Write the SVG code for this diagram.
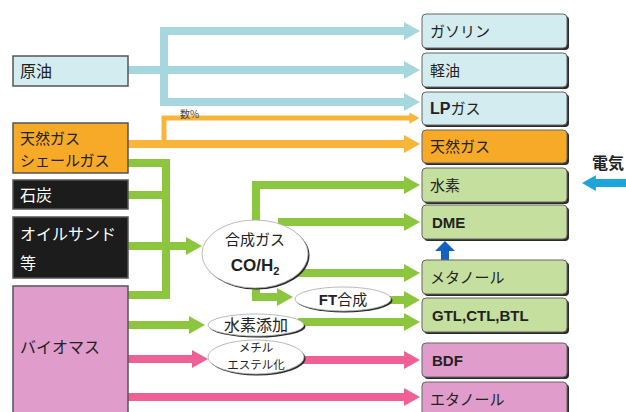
<svg xmlns="http://www.w3.org/2000/svg" width="626" height="412" viewBox="0 0 626 412">
<defs>
<style>
text{font-family:"Noto Sans CJK JP","Noto Sans",sans-serif;fill:#222;}
.lb{font-size:16px;}
.lb2{font-size:15px;}
.wt{fill:#fff;}
.rb{font-size:15px;}
.b{font-weight:bold;font-family:"Liberation Sans","Noto Sans CJK JP",sans-serif;}
.ln{fill:none;stroke-linejoin:miter;}
.bl{stroke:#a6d7df;stroke-width:8;}
.or{stroke:#f9b43a;stroke-width:8;}
.or2{stroke:#f9b43a;stroke-width:5;}
.gr{stroke:#8cc63e;stroke-width:8;}
.pk{stroke:#ef6097;stroke-width:8;}
.lbox{stroke:#555;stroke-width:1.5;}
.rbox{stroke:#666;stroke-width:1;}
.shadow{fill:#2a2a2a;}
.ell{fill:#fff;stroke:#aaa;stroke-width:0.8;}
</style>
<marker id="mBl" viewBox="0 0 16 18" refX="1" refY="9" markerWidth="2" markerHeight="2.25" orient="auto"><path d="M0,0 L16,9 L0,18 z" fill="#a6d7df"/></marker>
<marker id="mOr" viewBox="0 0 16 18" refX="1" refY="9" markerWidth="2" markerHeight="2.25" orient="auto"><path d="M0,0 L16,9 L0,18 z" fill="#f9b43a"/></marker>
<marker id="mGr" viewBox="0 0 16 18" refX="1" refY="9" markerWidth="2" markerHeight="2.25" orient="auto"><path d="M0,0 L16,9 L0,18 z" fill="#8cc63e"/></marker>
<marker id="mPk" viewBox="0 0 16 18" refX="1" refY="9" markerWidth="2" markerHeight="2.25" orient="auto"><path d="M0,0 L16,9 L0,18 z" fill="#ef6097"/></marker>
<marker id="mEl" viewBox="0 0 16 18" refX="1" refY="9" markerWidth="1.75" markerHeight="2.2" orient="auto"><path d="M0,0 L16,9 L0,18 z" fill="#1ea4dc"/></marker>
</defs>
<rect width="626" height="412" fill="#fff"/>

<g id="connectors">
  <!-- crude oil -->
  <path class="ln bl" d="M164,105 V31 H405" marker-end="url(#mBl)"/>
  <path class="ln bl" d="M128,70 H405" marker-end="url(#mBl)"/>
  <path class="ln bl" d="M160,102 H405" marker-end="url(#mBl)"/>
  <!-- natural gas -->
  <path class="ln or2" d="M164,144 V118 H410" marker-end="url(#mOr)"/>
  <path class="ln or" d="M128,144 H405" marker-end="url(#mOr)"/>
  <!-- green feedstocks -->
  <path class="ln gr" d="M128,163 H166 V295 H128"/>
  <path class="ln gr" d="M128,195 H166"/>
  <path class="ln gr" d="M128,246 H187" marker-end="url(#mGr)"/>
  <path class="ln gr" d="M256,230 V185 H405" marker-end="url(#mGr)"/>
  <path class="ln gr" d="M278,222 H405" marker-end="url(#mGr)"/>
  <path class="ln gr" d="M295,273 H405" marker-end="url(#mGr)"/>
  <path class="ln gr" d="M256,280 V297 H278" marker-end="url(#mGr)"/>
  <path class="ln gr" d="M385,300 H405" marker-end="url(#mGr)"/>
  <path class="ln gr" d="M128,325 H190" marker-end="url(#mGr)"/>
  <path class="ln gr" d="M298,322 H405" marker-end="url(#mGr)"/>
  <!-- biomass pink -->
  <path class="ln pk" d="M128,359 H193" marker-end="url(#mPk)"/>
  <path class="ln pk" d="M298,360 H405" marker-end="url(#mPk)"/>
  <path class="ln pk" d="M128,397 H405" marker-end="url(#mPk)"/>
  <!-- electricity -->
  <path class="ln" stroke="#1ea4dc" stroke-width="8" d="M626,183 H595" marker-end="url(#mEl)"/>
  <!-- methanol to DME -->
  <path d="M441,260 V251 H435 L445,241 L455,251 H449 V260 z" fill="#1262c2"/>
  <text x="180" y="118" font-size="10" style="fill:#444">数%</text>
</g>

<g id="src-crude"><rect class="lbox" x="13" y="56" width="115" height="30" fill="#d3ecef"/><text class="lb" x="20" y="77">原油</text></g>
<g id="src-gas"><rect class="lbox" x="13" y="123" width="115" height="50" fill="#f7a928"/><text class="lb2" x="20" y="144">天然ガス</text><text class="lb2" x="20" y="166">シェールガス</text></g>
<g id="src-coal"><rect class="lbox" x="13" y="180" width="115" height="29" fill="#1c1c1c"/><text class="lb wt" x="20" y="201">石炭</text></g>
<g id="src-oilsand"><rect class="lbox" x="13" y="217" width="115" height="61" fill="#1c1c1c"/><text class="lb wt" x="20" y="240">オイルサンド</text><text class="lb wt" x="20" y="269">等</text></g>
<g id="src-biomass"><rect class="lbox" x="13" y="286" width="115" height="130" fill="#e09ccb"/><text class="lb" x="20" y="353">バイオマス</text></g>

<g id="proc-syngas"><ellipse class="shadow" cx="256.5" cy="255.5" rx="53" ry="34"/><ellipse class="ell" cx="255" cy="254" rx="53" ry="34"/><text x="255" y="245" font-size="15" text-anchor="middle">合成ガス</text><text class="b" x="255" y="271" font-size="17" text-anchor="middle">CO/H<tspan font-size="11" dy="4">2</tspan></text></g>
<g id="proc-ft"><ellipse class="shadow" cx="344.5" cy="300.5" rx="48" ry="12"/><ellipse class="ell" cx="343" cy="299" rx="48" ry="12"/><text x="343" y="305" font-size="15" text-anchor="middle"><tspan class="b">FT</tspan>合成</text></g>
<g id="proc-h2add"><ellipse class="shadow" cx="257.5" cy="326.5" rx="48" ry="11"/><ellipse class="ell" cx="256" cy="325" rx="48" ry="11"/><text x="256" y="331" font-size="16" text-anchor="middle">水素添加</text></g>
<g id="proc-ester"><ellipse class="shadow" cx="257.5" cy="358.5" rx="48" ry="17"/><ellipse class="ell" cx="256" cy="357" rx="48" ry="17"/><text x="256" y="352" font-size="11.5" text-anchor="middle">メチル</text><text x="256" y="369" font-size="11.5" text-anchor="middle">エステル化</text></g>

<g id="p-gasoline"><rect class="shadow" x="424" y="16" width="145" height="34" rx="4"/><rect class="rbox" x="422" y="14" width="145" height="34" rx="4" fill="#d3ecef"/><text class="rb" x="430" y="37">ガソリン</text></g>
<g id="p-diesel"><rect class="shadow" x="424" y="55" width="145" height="34" rx="4"/><rect class="rbox" x="422" y="53" width="145" height="34" rx="4" fill="#d3ecef"/><text class="rb" x="430" y="76">軽油</text></g>
<g id="p-lpg"><rect class="shadow" x="424" y="94" width="145" height="33" rx="4"/><rect class="rbox" x="422" y="92" width="145" height="33" rx="4" fill="#d3ecef"/><text class="rb" x="430" y="114"><tspan class="b" font-size="16">LP</tspan>ガス</text></g>
<g id="p-natgas"><rect class="shadow" x="424" y="132" width="145" height="33" rx="4"/><rect class="rbox" x="422" y="130" width="145" height="33" rx="4" fill="#f7a928"/><text class="rb" x="430" y="152">天然ガス</text></g>
<g id="p-h2"><rect class="shadow" x="424" y="170" width="145" height="34" rx="4"/><rect class="rbox" x="422" y="168" width="145" height="34" rx="4" fill="#c5df9f"/><text class="rb" x="430" y="191">水素</text></g>
<g id="p-dme"><rect class="shadow" x="424" y="207" width="145" height="34" rx="4"/><rect class="rbox" x="422" y="205" width="145" height="34" rx="4" fill="#c5df9f"/><text class="rb b" x="432" y="228" font-size="16">DME</text></g>
<g id="p-methanol"><rect class="shadow" x="424" y="262" width="145" height="34" rx="4"/><rect class="rbox" x="422" y="260" width="145" height="34" rx="4" fill="#c5df9f"/><text class="rb" x="430" y="283">メタノール</text></g>
<g id="p-gtl"><rect class="shadow" x="424" y="300" width="145" height="34" rx="4"/><rect class="rbox" x="422" y="298" width="145" height="34" rx="4" fill="#c5df9f"/><text class="rb b" x="432" y="321" font-size="16">GTL,CTL,BTL</text></g>
<g id="p-bdf"><rect class="shadow" x="424" y="345" width="145" height="34" rx="4"/><rect class="rbox" x="422" y="343" width="145" height="34" rx="4" fill="#e09ccb"/><text class="rb b" x="432" y="366" font-size="16">BDF</text></g>
<g id="p-ethanol"><rect class="shadow" x="424" y="384" width="145" height="34" rx="4"/><rect class="rbox" x="422" y="382" width="145" height="34" rx="4" fill="#e09ccb"/><text class="rb" x="430" y="405">エタノール</text></g>

<g id="electricity"><text class="b" x="592" y="169" font-size="16">電気</text></g>
</svg>
